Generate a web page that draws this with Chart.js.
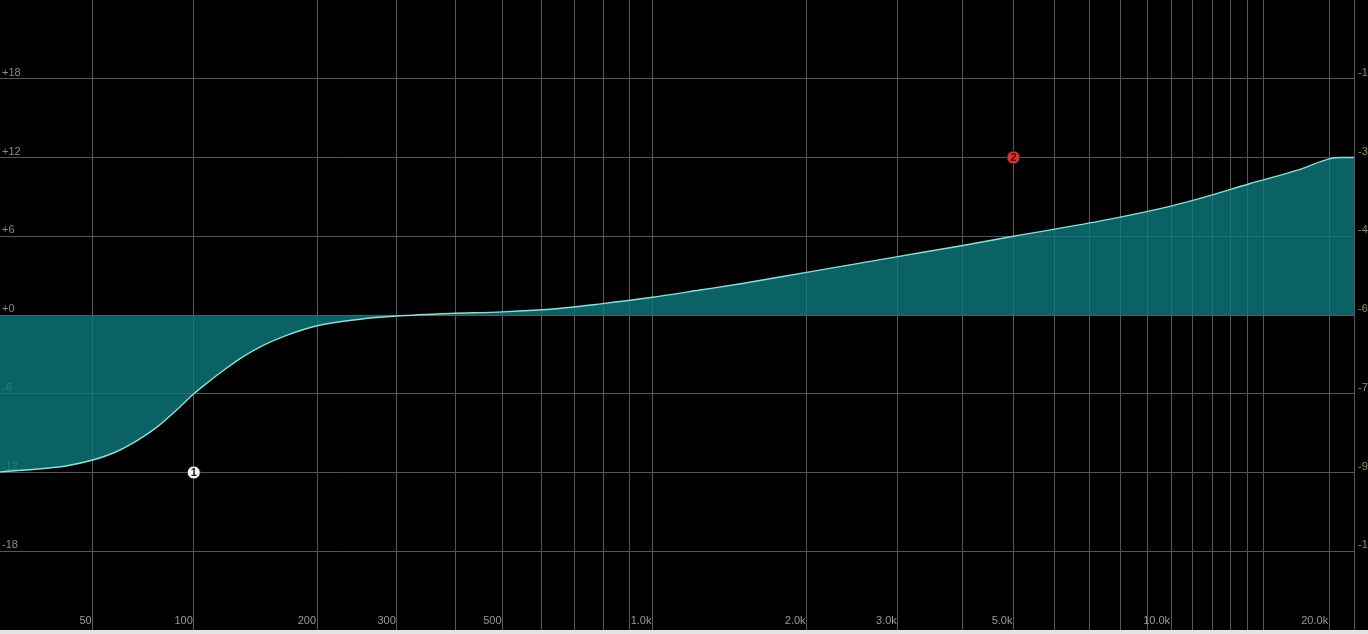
<!DOCTYPE html>
<html lang="en">
<head>
    <meta charset="UTF-8">
    <title>EQ curve</title>
    <script src="https://cdn.jsdelivr.net/npm/chart.js"></script>
    <style>
        html, body { margin: 0; padding: 0; background: #e4e4e4; }
        body { height: 634px; overflow: hidden; }
        #wrap { width: 1368px; height: 630px; background: #000; position: relative; }
    </style>
</head>
<body>
    <div id="wrap"><canvas id="eqChart"></canvas></div>

    <script>
        // curve (Hz / dB)
        const curveHz = [20, 30, 40, 50, 60, 70, 80, 90, 100, 110, 120, 135, 150, 170, 200, 250, 300, 390, 500, 650, 790, 1000, 1240, 1500, 2000, 3000, 4000, 5000, 7300, 10000, 11400, 14100, 17600, 20000, 21000, 22300];
        const curveDb = [-11.95, -11.75, -11.5, -11.05, -10.4, -9.5, -8.45, -7.22, -6.0, -5.03, -4.17, -3.1, -2.3, -1.55, -0.82, -0.32, -0.08, 0.12, 0.24, 0.5, 0.85, 1.35, 1.9, 2.4, 3.25, 4.45, 5.3, 6.0, 7.15, 8.3, 8.9, 10.0, 11.1, 11.9, 12.0, 12.0];

        // band handles
        const bandNames = ['1', '2'];
        const bandHz = [100, 5000];
        const bandDb = [-12, 12];
        const bandColors = ['#f4f4f4', '#e4302c'];
        const bandTextColors = ['#1a1a1a', '#3a0505'];

        // axes
        const gridHz = [50, 100, 200, 300, 400, 500, 600, 700, 800, 900, 1000, 2000, 3000, 4000, 5000, 6000, 7000, 8000, 9000, 10000, 11000, 12000, 13000, 14000, 15000, 20000];
        const labelHz = {50: '50', 100: '100', 200: '200', 300: '300', 500: '500', 1000: '1.0k', 2000: '2.0k', 3000: '3.0k', 5000: '5.0k', 10000: '10.0k', 20000: '20.0k'};
        const gainTicks = [-18, -12, -6, 0, 6, 12, 18];
        const meterLabels = ['-105', '-90', '-75', '-60', '-45', '-30', '-15'];

        const HZ_OFFSET = 40; // the frequency axis is log(f + 40)

        class EqFreqScale extends Chart.Scale {
            determineDataLimits() {
                this.min = this.options.min;
                this.max = this.options.max;
            }
            buildTicks() {
                return gridHz.map(v => ({ value: v }));
            }
            getLabelForValue(value) {
                return String(value);
            }
            configure() {
                super.configure();
                this._lo = Math.log10(this.min + HZ_OFFSET);
                this._hi = Math.log10(this.max + HZ_OFFSET);
            }
            getPixelForValue(value) {
                return this.getPixelForDecimal((Math.log10(value + HZ_OFFSET) - this._lo) / (this._hi - this._lo));
            }
            getValueForPixel(pixel) {
                const d = this.getDecimalForPixel(pixel);
                return Math.pow(10, this._lo + d * (this._hi - this._lo)) - HZ_OFFSET;
            }
        }
        EqFreqScale.id = 'eqfreq';
        EqFreqScale.defaults = {};
        Chart.register(EqFreqScale);

        function noPad(s) {
            s.paddingLeft = 0;
            s.paddingRight = 0;
            s.paddingTop = 0;
            s.paddingBottom = 0;
        }

        const markerLabels = {
            id: 'markerLabels',
            afterDatasetsDraw(chart) {
                const meta = chart.getDatasetMeta(1);
                const ctx = chart.ctx;
                ctx.save();
                ctx.font = 'bold 11px "Liberation Sans", Arial, sans-serif';
                ctx.textAlign = 'center';
                ctx.textBaseline = 'middle';
                meta.data.forEach((pt, i) => {
                    ctx.fillStyle = bandTextColors[i];
                    ctx.fillText(bandNames[i], pt.x, pt.y + 0.5);
                });
                ctx.restore();
            }
        };

        const gridColor = '#575757';
        const labelFont = { family: '"Liberation Sans", Arial, sans-serif', size: 11 };

        new Chart(document.getElementById('eqChart'), {
            type: 'line',
            data: {
                datasets: [{
                    data: curveHz.map((f, i) => ({ x: f, y: curveDb[i] })),
                    borderColor: '#86e3dc',
                    borderWidth: 1.4,
                    backgroundColor: 'rgba(12, 122, 126, 0.8)',
                    fill: 'origin',
                    pointRadius: 0,
                    cubicInterpolationMode: 'monotone'
                }, {
                    data: bandHz.map((f, i) => ({ x: f, y: bandDb[i] })),
                    showLine: false,
                    fill: false,
                    pointRadius: 6.5,
                    pointBorderWidth: 1,
                    pointBorderColor: '#222',
                    pointBackgroundColor: bandColors
                }]
            },
            options: {
                responsive: true,
                maintainAspectRatio: false,
                animation: false,
                layout: { padding: 0, autoPadding: false },
                plugins: { legend: { display: false }, tooltip: { enabled: false } },
                scales: {
                    x: {
                        type: 'eqfreq',
                        position: 'bottom',
                        min: 20,
                        max: 22300,
                        grid: { color: gridColor, drawTicks: false },
                        border: { display: false },
                        ticks: {
                            autoSkip: false,
                            minRotation: 0,
                            maxRotation: 0,
                            mirror: true,
                            align: 'end',
                            padding: 2,
                            labelOffset: -1,
                            color: '#9a9a9a',
                            font: labelFont,
                            callback: v => labelHz[v] || ''
                        },
                        afterFit: s => { s.height = 0; noPad(s); }
                    },
                    y: {
                        type: 'linear',
                        position: 'left',
                        min: -24,
                        max: 24,
                        afterBuildTicks: s => { s.ticks = gainTicks.map(v => ({ value: v })); },
                        grid: { color: gridColor, drawTicks: false },
                        border: { display: false },
                        ticks: {
                            mirror: true,
                            padding: 2,
                            labelOffset: -6,
                            color: '#8c8c8c',
                            font: labelFont,
                            callback: v => (v >= 0 ? '+' : '') + v
                        },
                        afterFit: s => { s.width = 0; noPad(s); }
                    },
                    y2: {
                        type: 'linear',
                        position: 'right',
                        min: -24,
                        max: 24,
                        afterBuildTicks: s => { s.ticks = gainTicks.map(v => ({ value: v })); },
                        grid: { drawOnChartArea: false, drawTicks: false },
                        border: { display: true, color: gridColor },
                        ticks: {
                            padding: 4,
                            labelOffset: -6,
                            color: '#8f8f63',
                            font: labelFont,
                            callback: (v, i) => meterLabels[i]
                        },
                        afterFit: s => { s.width = 14; noPad(s); }
                    }
                }
            },
            plugins: [markerLabels]
        });
    </script>
</body>
</html>
